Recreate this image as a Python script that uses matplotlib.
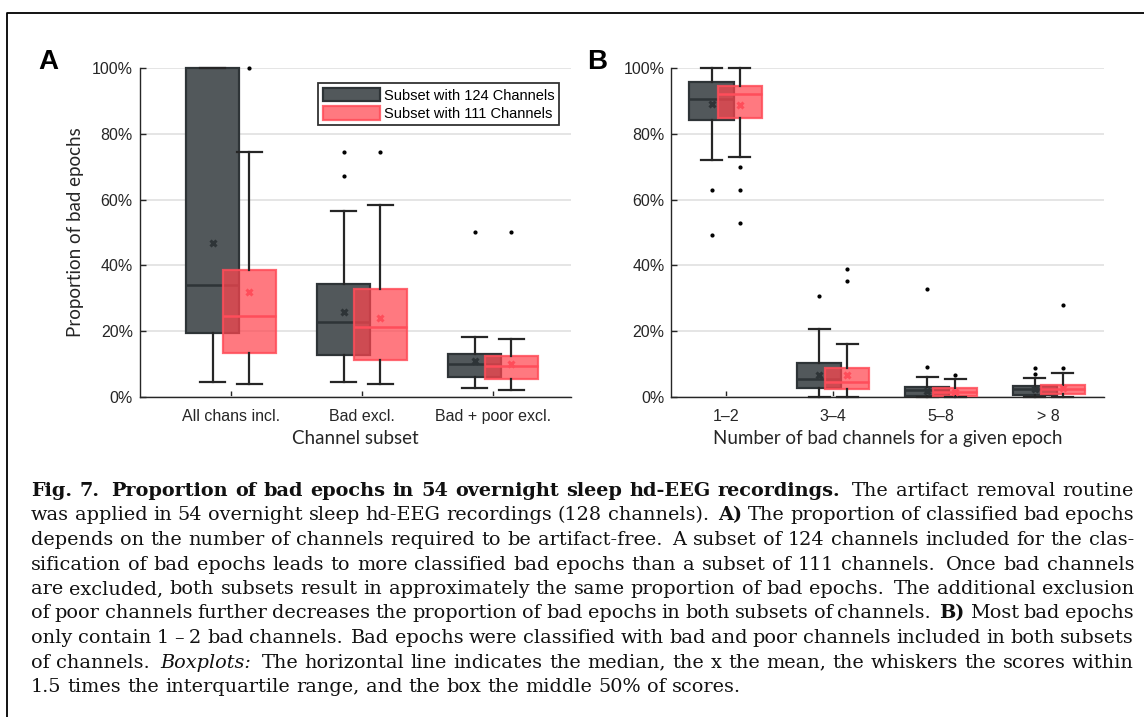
import matplotlib
matplotlib.use("Agg")
import matplotlib.pyplot as plt
from matplotlib.patches import Patch
from matplotlib.lines import Line2D
from matplotlib.ticker import FuncFormatter, MultipleLocator

# ---- data (percent of bad epochs) ----
cats_a = ["All chans incl.", "Bad excl.", "Bad + poor excl."]
a124_med = [33.9, 22.6, 10.1]
a124_q1 = [19.5, 12.8, 6.1]
a124_q3 = [100.0, 34.3, 13.0]
a124_lo = [4.5, 4.5, 2.5]
a124_hi = [100.0, 56.5, 18.3]
a124_mean = [46.8, 25.9, 10.9]
a124_out = [[], [67.2, 74.4], [50.0]]

a111_med = [24.6, 21.3, 9.3]
a111_q1 = [13.2, 11.1, 5.5]
a111_q3 = [38.6, 32.9, 12.3]
a111_lo = [4.0, 4.0, 2.0]
a111_hi = [74.5, 58.3, 17.5]
a111_mean = [32.0, 24.0, 9.9]
a111_out = [[100.0], [74.4], [50.0]]

cats_b = ["1\u20132", "3\u20134", "5\u20138", "> 8"]
b124_med = [90.6, 5.5, 2.0, 2.2]
b124_q1 = [84.4, 2.5, 0.2, 0.5]
b124_q3 = [95.8, 10.4, 3.0, 3.2]
b124_lo = [72.0, 0.0, 0.0, 0.0]
b124_hi = [100.0, 20.6, 6.1, 5.8]
b124_mean = [89.0, 6.7, 1.6, 2.2]
b124_out = [[62.9, 49.3], [30.7], [9.1, 32.9], [6.8, 8.8]]

b111_med = [92.3, 4.6, 1.3, 2.3]
b111_q1 = [84.8, 2.2, 0.2, 0.9]
b111_q3 = [94.6, 8.8, 2.5, 3.7]
b111_lo = [73.0, 0.0, 0.0, 0.0]
b111_hi = [100.0, 16.0, 5.3, 7.2]
b111_mean = [88.7, 6.6, 1.5, 2.5]
b111_out = [[70.0, 62.9, 53.0], [38.8, 35.2], [6.5], [8.8, 28.0]]

legend_labels = ["Subset with 124 Channels", "Subset with 111 Channels"]

caption = [
    [("Fig. 7.  Proportion of bad epochs in 54 overnight sleep hd-EEG recordings.", "bold"),
     ("The artifact removal routine", "normal")],
    [("was applied in 54 overnight sleep hd-EEG recordings (128 channels).", "normal"), ("A)", "bold"),
     ("The proportion of classified bad epochs", "normal")],
    [("depends on the number of channels required to be artifact-free.  A subset of 124 channels included for the clas-", "normal")],
    [("sification of bad epochs leads to more classified bad epochs than a subset of 111 channels.  Once bad channels", "normal")],
    [("are excluded, both subsets result in approximately the same proportion of bad epochs.  The additional exclusion", "normal")],
    [("of poor channels further decreases the proportion of bad epochs in both subsets of channels.", "normal"),
     ("B)", "bold"), ("Most bad epochs", "normal")],
    [("only contain 1 \u2013 2 bad channels.  Bad epochs were classified with bad and poor channels included in both subsets", "normal")],
    [("of channels.", "normal"), ("Boxplots:", "italic"),
     ("The horizontal line indicates the median, the x the mean, the whiskers the scores within", "normal")],
    [("1.5 times the interquartile range, and the box the middle 50% of scores.", "normal")],
]

DARK_FACE = "#52585b"
DARK_EDGE = "#2e3437"
RED_FACE = (1.0, 0.275, 0.31, 0.72)
RED_EDGE = (1.0, 0.30, 0.35, 0.85)
WHISK = "#262626"

TICK_FONT = "Liberation Sans"
LABEL_FONT = "Lato"

W, H = 1144, 717
fig = plt.figure(figsize=(W / 100, H / 100), dpi=100)


def px_axes(left, top, right, bottom):
    return fig.add_axes([left / W, 1 - bottom / H, (right - left) / W, (bottom - top) / H])


def make_stats(med, q1, q3, lo, hi, mean, out):
    return [dict(med=m, q1=a, q3=b, whislo=l, whishi=h, mean=mu, fliers=f)
            for m, a, b, l, h, mu, f in zip(med, q1, q3, lo, hi, mean, out)]


def draw_boxes(ax, stats, positions, face, edge, medc, width, capw, z):
    parts = ax.bxp(stats, positions=positions, widths=width, capwidths=capw,
                   showmeans=True, patch_artist=True, manage_ticks=False, zorder=z,
                   boxprops=dict(facecolor=face, edgecolor=edge, linewidth=1.6),
                   medianprops=dict(color=medc, linewidth=1.8),
                   whiskerprops=dict(color=WHISK, linewidth=1.6),
                   capprops=dict(color=WHISK, linewidth=1.6),
                   meanprops=dict(marker="x", markeredgecolor=medc, markersize=4.5, markeredgewidth=2.2),
                   flierprops=dict(marker="o", markerfacecolor="black", markeredgecolor="black", markersize=2))
    for key in ["boxes", "fliers", "caps", "whiskers"]:
        for art in parts[key]:
            art.set_clip_on(False)


def style_axes(ax, cats, xlim):
    ax.set_xlim(*xlim)
    ax.set_ylim(0, 100)
    ax.set_xticks(range(1, len(cats) + 1))
    ax.set_xticklabels(cats, fontfamily=TICK_FONT, fontsize=11.5, color="#262626")
    ax.yaxis.set_major_locator(MultipleLocator(20))
    ax.yaxis.set_major_formatter(FuncFormatter(lambda v, p: f"{v:.0f}%"))
    for lab in ax.get_yticklabels():
        lab.set_fontfamily(TICK_FONT)
    ax.tick_params(axis="y", labelsize=11.5, labelcolor="#262626", direction="in",
                   length=4, width=1, color=WHISK, pad=5)
    ax.tick_params(axis="x", direction="in", length=4, width=1, color=WHISK, pad=9)
    for s in ["top", "right"]:
        ax.spines[s].set_visible(False)
    for s in ["left", "bottom"]:
        ax.spines[s].set_color(WHISK)
        ax.spines[s].set_linewidth(1.0)
    ax.set_axisbelow(True)
    ax.yaxis.grid(True, color="#e3e3e3", linewidth=1.3)


# ---- panel A ----
axA = px_axes(139.7, 68.3, 571.4, 396.7)
xa = [1, 2, 3]
off_a = 0.14
draw_boxes(axA, make_stats(a124_med, a124_q1, a124_q3, a124_lo, a124_hi, a124_mean, a124_out),
           [x - off_a for x in xa], DARK_FACE, DARK_EDGE, DARK_EDGE, 0.405, 0.19, 2)
draw_boxes(axA, make_stats(a111_med, a111_q1, a111_q3, a111_lo, a111_hi, a111_mean, a111_out),
           [x + off_a for x in xa], RED_FACE, RED_EDGE, "#ff4d5a", 0.405, 0.19, 3)
style_axes(axA, cats_a, (0.302, 3.6))
axA.set_xlabel("Channel subset", fontfamily=LABEL_FONT, fontsize=13.5, color="#262626")
axA.xaxis.set_label_coords(0.5, -0.1)
axA.xaxis.label.set_va("top")
axA.set_ylabel("Proportion of bad epochs", fontfamily=LABEL_FONT, fontsize=13.5, color="#262626")
axA.yaxis.set_label_coords(-0.13, 0.5)

handles = [Patch(facecolor=DARK_FACE, edgecolor=DARK_EDGE, linewidth=1.6),
           Patch(facecolor=RED_FACE, edgecolor=RED_EDGE, linewidth=1.6)]
leg = axA.legend(handles, legend_labels, loc="upper right", bbox_to_anchor=(0.971, 0.954),
                 borderaxespad=0, fancybox=False, framealpha=1, edgecolor="#333333",
                 prop=dict(family=TICK_FONT, size=10.5), handlelength=3.9, handleheight=1.05,
                 handletextpad=0.3, borderpad=0.3, labelspacing=0.25)
leg.get_frame().set_linewidth(1.3)

# ---- panel B ----
axB = px_axes(671.4, 68.3, 1103.7, 396.7)
xb = [1, 2, 3, 4]
off_b = 0.13
draw_boxes(axB, make_stats(b124_med, b124_q1, b124_q3, b124_lo, b124_hi, b124_mean, b124_out),
           [x - off_b for x in xb], DARK_FACE, DARK_EDGE, DARK_EDGE, 0.41, 0.195, 2)
draw_boxes(axB, make_stats(b111_med, b111_q1, b111_q3, b111_lo, b111_hi, b111_mean, b111_out),
           [x + off_b for x in xb], RED_FACE, RED_EDGE, "#ff4d5a", 0.41, 0.195, 3)
style_axes(axB, cats_b, (0.497, 4.51))
axB.set_xlabel("Number of bad channels for a given epoch", fontfamily=LABEL_FONT, fontsize=13.5, color="#262626")
axB.xaxis.set_label_coords(0.5, -0.1)
axB.xaxis.label.set_va("top")

# panel letters
fig.text(48 / W, 1 - 62 / H, "A", fontfamily=TICK_FONT, fontsize=20, fontweight="bold", ha="center", va="center")
fig.text(597 / W, 1 - 62 / H, "B", fontfamily=TICK_FONT, fontsize=20, fontweight="bold", ha="center", va="center")

# frame around the figure (open at right and bottom)
fig.add_artist(Line2D([7 / W, 7 / W, 1.0], [0.0, 1 - 13 / H, 1 - 13 / H],
                      transform=fig.transFigure, color="black", linewidth=1.3))

# ---- justified caption ----
renderer = fig.canvas.get_renderer()
x0, x1 = 31, 1134
base0, dy = 496, 24.5
cap_size = 13.9
for i, segs in enumerate(caption):
    words = []
    for txt, style in segs:
        for w in txt.split():
            words.append((w, style))
    y = 1 - (base0 + i * dy) / H
    texts = []
    for w, style in words:
        t = fig.text(0, y, w, fontfamily="DejaVu Serif", fontsize=cap_size, va="baseline",
                     fontweight="bold" if style == "bold" else "normal",
                     fontstyle="italic" if style == "italic" else "normal", color="#111111")
        texts.append(t)
    widths = [t.get_window_extent(renderer).width for t in texts]
    # sentence ends get a wider space, like TeX
    weights = [1.6 if w[-1] in ".:" and w not in ("Fig.",) else 1.0 for w, _ in words[:-1]]
    if i < len(caption) - 1:
        unit = (x1 - x0 - sum(widths)) / sum(weights)
    else:
        unit = 0.32 * cap_size * 100 / 72
    x = x0
    for k, (t, wd) in enumerate(zip(texts, widths)):
        t.set_x(x / W)
        if k < len(weights):
            x += wd + unit * weights[k]

fig.savefig("out.png", dpi=100)
